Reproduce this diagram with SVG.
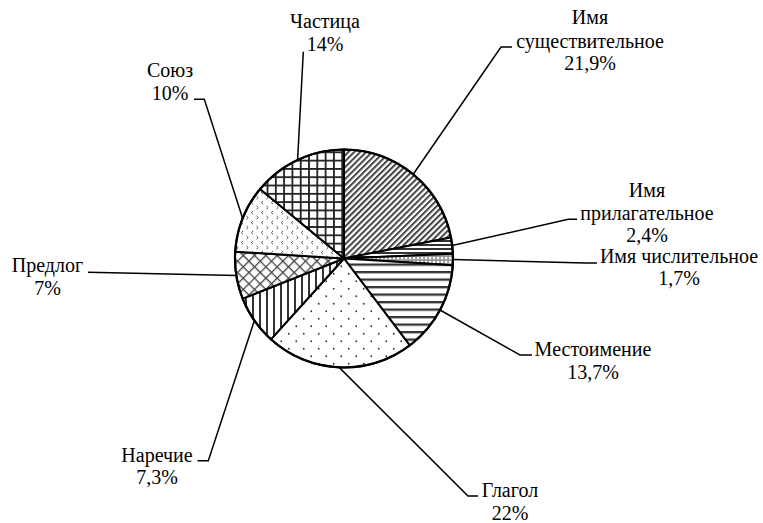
<svg xmlns="http://www.w3.org/2000/svg" width="763" height="523" viewBox="0 0 763 523">
  <style>
    .lbl { font-size: 20px; fill: #000; text-anchor: middle; }
    .slice { stroke: #000; stroke-width: 2; stroke-linejoin: round; }
    .lead { fill: none; stroke: #000; stroke-width: 1.5; }
  </style>
  <defs>
    <pattern id="pDiag" patternUnits="userSpaceOnUse" width="4.2" height="4.2" patternTransform="rotate(45)">
      <rect width="4.2" height="4.2" fill="#fff"/>
      <rect width="2" height="4.2" fill="#444"/>
    </pattern>
    <pattern id="pHDense" patternUnits="userSpaceOnUse" width="4" height="4">
      <rect width="4" height="4" fill="#fff"/>
      <rect width="4" height="2" fill="#333"/>
    </pattern>
    <pattern id="pDotGrid" patternUnits="userSpaceOnUse" width="4" height="4">
      <rect width="4" height="4" fill="#999"/>
      <rect x="1" y="1" width="2.2" height="2.2" fill="#fff"/>
    </pattern>
    <pattern id="pHWide" patternUnits="userSpaceOnUse" width="7.5" height="7.5" y="1">
      <rect width="7.5" height="7.5" fill="#fff"/>
      <rect width="7.5" height="2.3" fill="#333"/>
    </pattern>
    <pattern id="pDots" patternUnits="userSpaceOnUse" width="15" height="15">
      <rect width="15" height="15" fill="#fff"/>
      <circle cx="3.75" cy="3.75" r="0.9" fill="#333"/>
      <circle cx="11.25" cy="11.25" r="0.9" fill="#333"/>
    </pattern>
    <pattern id="pVert" patternUnits="userSpaceOnUse" width="7" height="7">
      <rect width="7" height="7" fill="#fff"/>
      <rect width="2" height="7" fill="#333"/>
    </pattern>
    <pattern id="pCross" patternUnits="userSpaceOnUse" width="8" height="8" patternTransform="rotate(45)">
      <rect width="8" height="8" fill="#fff"/>
      <rect width="1.3" height="8" fill="#444"/>
      <rect width="8" height="1.3" fill="#444"/>
    </pattern>
    <pattern id="pDivot" patternUnits="userSpaceOnUse" width="10" height="10">
      <rect width="10" height="10" fill="#fff"/>
      <path d="M3 1 L1.3 2.6 L3 4.2 M6.5 6 L8.2 7.6 L6.5 9.2" fill="none" stroke="#555" stroke-width="1"/>
    </pattern>
    <pattern id="pGrid" patternUnits="userSpaceOnUse" width="8.3" height="8.3" x="1" y="2">
      <rect width="8.3" height="8.3" fill="#fff"/>
      <rect width="1.8" height="8.3" fill="#222"/>
      <rect width="8.3" height="1.8" fill="#222"/>
    </pattern>
  </defs>

  <g id="pie">
    <path id="s-noun" class="slice" fill="url(#pDiag)" d="M344 258.5 L344 149.5 A109 109 0 0 1 450.94 237.4 Z"/>
    <path id="s-adj" class="slice" fill="url(#pHDense)" d="M344 258.5 L450.94 237.4 A109 109 0 0 1 452.89 253.71 Z"/>
    <path id="s-num" class="slice" fill="url(#pDotGrid)" d="M344 258.5 L452.89 253.71 A109 109 0 0 1 452.79 265.34 Z"/>
    <path id="s-pron" class="slice" fill="url(#pHWide)" d="M344 258.5 L452.79 265.34 A109 109 0 0 1 409.75 345.44 Z"/>
    <path id="s-verb" class="slice" fill="url(#pDots)" d="M344 258.5 L409.75 345.44 A109 109 0 0 1 270.89 339.35 Z"/>
    <path id="s-adv" class="slice" fill="url(#pVert)" d="M344 258.5 L270.89 339.35 A109 109 0 0 1 242.65 298.63 Z"/>
    <path id="s-prep" class="slice" fill="url(#pCross)" d="M344 258.5 L242.65 298.63 A109 109 0 0 1 235.21 251.66 Z"/>
    <path id="s-conj" class="slice" fill="url(#pDivot)" d="M344 258.5 L235.21 251.66 A109 109 0 0 1 260.01 189.02 Z"/>
    <path id="s-part" class="slice" fill="url(#pGrid)" d="M344 258.5 L260.01 189.02 A109 109 0 0 1 344 149.5 Z"/>
    <circle cx="344" cy="258.5" r="109" fill="none" stroke="#000" stroke-width="2.2"/>
  </g>

  <g id="connectors">
    <polyline class="lead" points="413.2,174.3 501,47 512,47"/>
    <polyline class="lead" points="452.2,245.5 568.3,219.3 577,219.3"/>
    <polyline class="lead" points="453,259.5 585,263 597,263"/>
    <polyline class="lead" points="440,310 520,355 532,355"/>
    <polyline class="lead" points="339.2,367.4 468,496 478,496"/>
    <polyline class="lead" points="254.4,320.6 208.3,460.7 197.5,460.7"/>
    <polyline class="lead" points="236.3,275.5 100,272.5 88,272.3"/>
    <polyline class="lead" points="242.7,218.4 204.3,99.3 194,99.3"/>
    <polyline class="lead" points="297.6,159.9 303.3,51.7"/>
  </g>

  <g id="labels" font-family="Liberation Serif, DejaVu Serif, serif">
  <g id="label-noun">
    <text class="lbl" x="590" y="24">Имя</text>
    <text class="lbl" x="590" y="47.5">существительное</text>
    <text class="lbl" x="590" y="70">21,9%</text>
  </g>
  <g id="label-adj">
    <text class="lbl" x="647" y="197">Имя</text>
    <text class="lbl" x="647" y="219.5">прилагательное</text>
    <text class="lbl" x="647" y="242">2,4%</text>
  </g>
  <g id="label-num">
    <text class="lbl" x="679" y="262.5">Имя числительное</text>
    <text class="lbl" x="679" y="285">1,7%</text>
  </g>
  <g id="label-pron">
    <text class="lbl" x="593" y="356">Местоимение</text>
    <text class="lbl" x="593" y="378.5">13,7%</text>
  </g>
  <g id="label-verb">
    <text class="lbl" x="510" y="497">Глагол</text>
    <text class="lbl" x="510" y="519.5">22%</text>
  </g>
  <g id="label-adv">
    <text class="lbl" x="157" y="461.5">Наречие</text>
    <text class="lbl" x="157" y="484">7,3%</text>
  </g>
  <g id="label-prep">
    <text class="lbl" x="47.5" y="272">Предлог</text>
    <text class="lbl" x="47.5" y="294.5">7%</text>
  </g>
  <g id="label-conj">
    <text class="lbl" x="170" y="77">Союз</text>
    <text class="lbl" x="170" y="99.5">10%</text>
  </g>
  <g id="label-part">
    <text class="lbl" x="325" y="28.3">Частица</text>
    <text class="lbl" x="325" y="50.5">14%</text>
  </g>
  </g>
</svg>
